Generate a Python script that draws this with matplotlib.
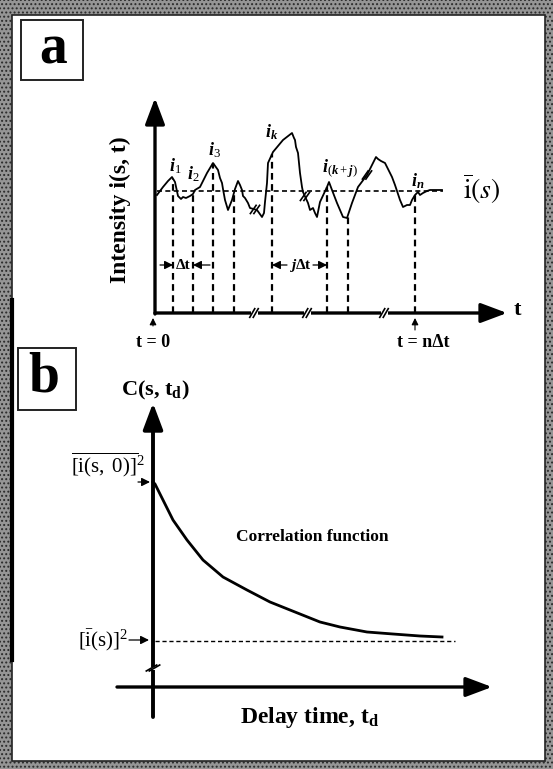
import matplotlib
matplotlib.use('Agg')
import matplotlib.pyplot as plt
import matplotlib.patches as mpatches
import numpy as np

plt.rcParams['font.family'] = ['Liberation Serif', 'DejaVu Serif']
plt.rcParams['mathtext.fontset'] = 'custom'
plt.rcParams['mathtext.rm'] = 'Liberation Serif'
plt.rcParams['mathtext.it'] = 'Liberation Serif:italic:bold'
plt.rcParams['mathtext.bf'] = 'Liberation Serif:bold'
plt.rcParams['hatch.linewidth'] = 0.9

# panel a : fluctuating intensity i(s, t) (arbitrary units, origin at axis crossing)
t_trace = [2, 8, 13, 17, 20, 23, 26, 28, 31, 35, 38, 40, 45, 52, 58, 63, 65, 67, 68,
           70, 73, 77, 80, 83, 85, 87, 88, 90, 93, 95, 102, 107, 109, 110, 112, 113,
           118, 128, 137, 139, 140, 141, 143, 145, 147, 148, 153, 155, 158, 160, 162,
           165, 172, 174, 177, 182, 188, 192, 197, 203, 212, 218, 221, 223, 226, 230,
           232, 235, 237, 240, 245, 248, 252, 255, 257, 260, 263, 265, 268, 272, 275,
           287]
i_trace = [118, 126, 132, 136, 131, 117, 114, 116, 115, 117, 119, 123, 126, 140, 150,
           143, 135, 130, 124, 113, 103, 113, 124, 132, 128, 123, 117, 115, 110, 105,
           103, 96, 100, 111, 130, 150, 161, 173, 180, 175, 173, 166, 160, 140, 126,
           121, 110, 103, 105, 100, 96, 111, 126, 131, 123, 110, 96, 95, 110, 126,
           138, 150, 156, 154, 152, 150, 146, 140, 136, 128, 113, 106, 108, 108, 113,
           118, 121, 118, 120, 122, 123, 123]
i_mean = 122.5
t_samples = [18, 38, 58, 79, 117, 172, 193, 260]
t_axis_breaks = [99, 152, 229]
trace_breaks_t = [100, 150, 212]

# panel b : correlation function C(s, td)
td = [0, 2, 10, 20, 34, 50, 70, 94, 117, 137, 157, 167, 187, 214, 240, 267, 289]
corr = [205, 203, 187, 167, 147, 127, 110, 97, 85, 77, 69, 65, 60, 55, 53, 51, 50]
corr_baseline = 46

fig = plt.figure(figsize=(5.53, 7.69), dpi=100)

# frame and panel label boxes
bg = fig.add_axes([0, 0, 1, 1])
bg.set_xlim(0, 553)
bg.set_ylim(769, 0)
bg.axis('off')
bg.add_patch(mpatches.Rectangle((0, 0), 553, 769, facecolor='#959595',
                                edgecolor='#2a2a2a', hatch='....', lw=0))
bg.add_patch(mpatches.Rectangle((12, 15), 533, 746, facecolor='white',
                                edgecolor='#222222', lw=1.2))
bg.plot([12, 12], [300, 660], color='k', lw=3)
for (x0, y0, w, h, lab, cx, cy) in [(21, 20, 62, 60, 'a', 53, 50),
                                     (18, 348, 58, 62, 'b', 44, 377)]:
    bg.add_patch(mpatches.Rectangle((x0, y0), w, h, facecolor='white',
                                    edgecolor='#222222', lw=1.4))
    bg.text(cx, cy, lab, fontsize=40, fontweight='bold', ha='center', va='center')


def arrow(ax, x0, y0, x1, y1, lw=2.4, hl=0.8, hw=0.3, ms=20):
    ax.annotate('', xy=(x1, y1), xytext=(x0, y0),
                arrowprops=dict(arrowstyle=f'-|>,head_length={hl},head_width={hw}',
                                lw=lw, color='k', shrinkA=0, shrinkB=0,
                                mutation_scale=ms))


def break_mark(ax, x, y, gap=3.5, size=5, angle=60, lw=1.2, blank=False):
    dx = size * np.cos(np.radians(angle))
    dy = size * np.sin(np.radians(angle))
    if blank:
        ax.plot([x - gap, x + gap], [y, y], color='white', lw=4, zorder=6,
                solid_capstyle='butt')
    for off in (-gap / 2, gap / 2):
        ax.plot([x + off - dx, x + off + dx], [y - dy, y + dy], color='k', lw=lw,
                zorder=7)


# ---------------- panel a ----------------
ax = fig.add_axes([100 / 553, 1 - 355 / 769, 440 / 553, 270 / 769])
ax.set_xlim(-55, 385)
ax.set_ylim(-42, 228)
ax.axis('off')

arrow(ax, 0, 0, 352, 0)
arrow(ax, 0, -1, 0, 215)

ax.plot(t_trace, i_trace, color='k', lw=1.3, zorder=4)
ax.plot([t_trace[0], t_trace[-1] + 1], [i_mean, i_mean], color='k', lw=1.2,
        ls=(0, (3, 2)), zorder=3)
tops = np.interp(t_samples, t_trace, i_trace)
for ts, top in zip(t_samples, tops):
    ax.plot([ts, ts], [0, top], color='k', lw=1.6, ls=(0, (3, 2)), zorder=3)

for tb in t_axis_breaks:
    break_mark(ax, tb, 0, blank=True)
for tb in trace_breaks_t:
    yb = np.interp(tb, t_trace, i_trace)
    break_mark(ax, tb, yb, angle=55, size=5)

# sample labels
ax.text(20, 147, r'$i_1$', fontsize=13, ha='center', va='center')
ax.text(38, 139, r'$i_2$', fontsize=13, ha='center', va='center')
ax.text(59, 163, r'$i_3$', fontsize=13, ha='center', va='center')
ax.text(117, 181, r'$i_k$', fontsize=13, ha='center', va='center')
ax.text(185, 144, r'$i_{(k+j)}$', fontsize=13, ha='center', va='center')
ax.text(263, 132, r'$i_n$', fontsize=13, ha='center', va='center')

ax.text(327, 124, r'$\overline{\mathrm{i}}\mathrm{(}s\mathrm{)}$', fontsize=20,
        ha='center', va='center', math_fontfamily='stix')
ax.text(-35, 103, 'Intensity i(s, t)', fontsize=17, fontweight='bold',
        rotation=90, ha='center', va='center')
ax.text(362, 3, 't', fontsize=16, fontweight='bold', ha='center', va='center')

# time step markers
arrow(ax, 5, 48, 18, 48, lw=0.9, hl=0.5, hw=0.25, ms=10)
arrow(ax, 55, 48, 38, 48, lw=0.9, hl=0.5, hw=0.25, ms=10)
ax.text(28, 48, 'Δt', fontsize=11, fontweight='bold', ha='center', va='center')
arrow(ax, 132, 48, 117, 48, lw=0.9, hl=0.5, hw=0.25, ms=10)
arrow(ax, 158, 48, 172, 48, lw=0.9, hl=0.5, hw=0.25, ms=10)
ax.text(145, 48, r'$j$Δt', fontsize=11, fontweight='bold', ha='center', va='center')

arrow(ax, -2, -13, -2, -5, lw=0.8, hl=0.4, hw=0.2, ms=10)
arrow(ax, 260, -17, 260, -5, lw=0.8, hl=0.4, hw=0.2, ms=10)
ax.text(-2, -29, 't = 0', fontsize=13, fontweight='bold', ha='center', va='center')
ax.text(268, -29, 't = nΔt', fontsize=13, fontweight='bold', ha='center', va='center')

# ---------------- panel b ----------------
bx = fig.add_axes([60 / 553, 1 - 740 / 769, 480 / 553, 360 / 769])
bx.set_xlim(-93, 387)
bx.set_ylim(-53, 307)
bx.axis('off')

arrow(bx, -36, 0, 339, 0, lw=2.4)
arrow(bx, 0, -30, 0, 284, lw=2.8)
break_mark(bx, 0, 19, gap=3, size=6, angle=30, blank=False)
bx.plot([0, 0], [17.5, 20.5], color='white', lw=4, zorder=6, solid_capstyle='butt')

bx.plot(td, corr, color='k', lw=2.0, zorder=4)
bx.plot([2, 302], [corr_baseline, corr_baseline], color='k', lw=1.0,
        ls=(0, (3, 2)), zorder=3)

bx.text(2, 297, 'C(s, t$_\\mathbf{d}$)', fontsize=16, fontweight='bold',
        ha='center', va='center')
bx.text(-45, 222, r'$\overline{\mathrm{[i(s,\;0)]}}^{2}$', fontsize=15,
        ha='center', va='center')
arrow(bx, -15, 205, -3, 205, lw=0.9, hl=0.5, hw=0.25, ms=10)
bx.text(-50, 47, r'$\mathrm{[\bar{i}(s)]}^{2}$', fontsize=15, ha='center', va='center')
arrow(bx, -24, 47, -4, 47, lw=0.9, hl=0.5, hw=0.25, ms=10)

bx.text(159, 150, 'Correlation function', fontsize=12.5, fontweight='bold',
        ha='center', va='center')
bx.text(157, -30, 'Delay time, t$_\\mathbf{d}$', fontsize=17, fontweight='bold',
        ha='center', va='center')

fig.savefig('out.png', dpi=100, facecolor='white')
